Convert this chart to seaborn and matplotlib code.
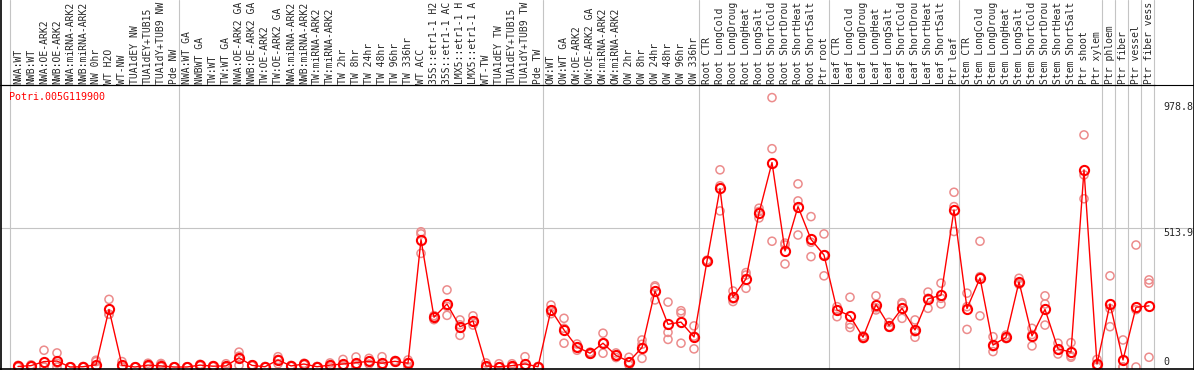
import numpy as np
import pandas as pd
import matplotlib
matplotlib.use("Agg")
import matplotlib.pyplot as plt
from matplotlib.lines import Line2D
import matplotlib.transforms as mtransforms
import seaborn as sns

# ---------------- data ----------------
gene_id = "Potri.005G119900"

# sample labels as visible in the chart header (long names are cut to 14 characters)
sample_labels = [
    "NWA:WT", "NWB:WT", "NWA:OE-ARK2", "NWB:OE-ARK2", "NWA:miRNA-ARK2", "NWB:miRNA-ARK2",
    "NW 0hr", "WT H2O", "WT-NW", "TUA1dEY NW", "TUA1dEY+TUB15", "TUA1dY+TUB9 NW", "Pde NW",
    "NWA:WT GA", "NWBWT GA", "TW:WT", "TW:WT GA", "NWA:OE-ARK2 GA", "NWB:OE-ARK2 GA",
    "TW:OE-ARK2", "TW:OE-ARK2 GA", "NWA:miRNA-ARK2", "NWB:miRNA-ARK2", "TW:miRNA-ARK2",
    "TW:miRNA-ARK2", "TW 2hr", "TW 8hr", "TW 24hr", "TW 48hr", "TW 96hr", "TW 336hr",
    "WT ACC", "35S::etr1-1 H2", "35S::etr1-1 AC", "LMX5::etr1-1 H", "LMX5::etr1-1 A",
    "WT-TW", "TUA1dEY TW", "TUA1dEY+TUB15", "TUA1dY+TUB9 TW", "Pde TW",
    "OW:WT", "OW:WT GA", "OW:OE-ARK2", "OW:OE-ARK2 GA", "OW:miRNA-ARK2", "OW:miRNA-ARK2",
    "OW 2hr", "OW 8hr", "OW 24hr", "OW 48hr", "OW 96hr", "OW 336hr",
    "Root CTR", "Root LongCold", "Root LongDroug", "Root LongHeat", "Root LongSalt",
    "Root ShortCold", "Root ShortDrou", "Root ShortHeat", "Root ShortSalt", "Ptr root",
    "Leaf CTR", "Leaf LongCold", "Leaf LongDroug", "Leaf LongHeat", "Leaf LongSalt",
    "Leaf ShortCold", "Leaf ShortDrou", "Leaf ShortHeat", "Leaf ShortSalt", "Ptr leaf",
    "Stem CTR", "Stem LongCold", "Stem LongDroug", "Stem LongHeat", "Stem LongSalt",
    "Stem ShortCold", "Stem ShortDrou", "Stem ShortHeat", "Stem ShortSalt", "Ptr shoot",
    "Ptr xylem", "Ptr phloem", "Ptr fiber", "Ptr vessel", "Ptr fiber vess",
]

group_sizes = [13, 28, 12, 10, 10, 11, 1, 1, 1, 1]

mean_values = [
    2, 5, 20, 22, 0, 1, 8, 213, 6, 0, 7, 4, 0,
    0, 7, 3, 4, 34, 6, 1, 26, 4, 11, 1, 7, 11, 16, 21, 14, 21, 14,
    471, 184, 233, 149, 170, 4, 1, 5, 11, 1,
    211, 137, 74, 51, 88, 43, 20, 72, 281, 158, 166, 111,
    392, 660, 258, 326, 569, 756, 429, 593, 472, 414,
    211, 189, 110, 231, 153, 217, 137, 252, 265, 581,
    216, 329, 81, 110, 315, 115, 213, 67, 55, 729, 11,
    233, 26, 221, 226,
]

rep_1 = [
    6, 8, 62, 52, 0, 2, 25, 250, 20, 0, 14, 13, 0,
    0, 10, 5, 12, 55, 8, 2, 38, 6, 14, 2, 15, 28, 37, 32, 38, 24, 26,
    500, 190, 285, 174, 189, 15, 12, 12, 38, 2,
    229, 180, 85, 55, 125, 52, 36, 100, 300, 240, 208, 152,
    395, 729, 281, 349, 587, 996, 458, 677, 556, 492,
    223, 258, 115, 263, 165, 238, 174, 277, 310, 646,
    273, 465, 112, 118, 328, 143, 263, 88, 90, 858, 28,
    337, 100, 451, 322,
]
rep_2 = [
    0, 5, 0, 14, 0, 0, 20, 195, 0, 0, 4, 10, 0,
    0, 7, 3, 0, 40, 6, 0, 28, 4, 10, 1, 6, 5, 10, 21, 5, 21, 16,
    492, 185, 224, 156, 166, 0, 0, 3, 0, 1,
    207, 143, 72, 51, 88, 43, 18, 84, 295, 128, 199, 114,
    392, 670, 252, 340, 575, 807, 451, 614, 461, 414,
    211, 158, 110, 219, 150, 233, 130, 254, 254, 593,
    223, 334, 75, 110, 310, 120, 233, 65, 41, 710, 5,
    216, 0, 212, 310,
]
rep_3 = [
    0, 2, 0, 0, 0, 0, 0, 195, 0, 0, 3, 0, 0,
    0, 4, 1, 0, 6, 4, 0, 12, 2, 8, 0, 0, 0, 0, 11, 0, 18, 0,
    420, 175, 191, 117, 155, 0, 0, 0, 0, 0,
    197, 88, 62, 47, 51, 35, 7, 32, 248, 102, 88, 67,
    389, 577, 242, 291, 551, 465, 381, 488, 408, 337,
    186, 146, 105, 211, 147, 180, 110, 217, 233, 501,
    139, 189, 57, 105, 306, 78, 155, 48, 36, 622, 0,
    149, 0, 0, 36,
]

y_tick_values = [0, 513.9, 978.8]
y_tick_labels = ["0", "513.9", "978.8"]

# ---------------- figure ----------------
W, H = 1194, 370
DPI = 100
sns.set_style("white")
plt.rcParams["font.family"] = ["DejaVu Sans Mono", "DejaVu Sans"]
FS = 7.0

fig = plt.figure(figsize=(W / DPI, H / DPI), dpi=DPI)
fig.patch.set_facecolor("white")

ax_left, ax_right, ax_top, ax_bottom = 1, 1155, 85, 369
ax = fig.add_axes([ax_left / W, (H - ax_bottom) / H,
                   (ax_right - ax_left) / W, (ax_bottom - ax_top) / H])

n = len(sample_labels)
idx = np.arange(n)
mean_df = pd.DataFrame({"idx": idx, "value": mean_values})
rep_df = pd.DataFrame({
    "idx": np.concatenate([idx, idx, idx]),
    "value": np.concatenate([rep_1, rep_2, rep_3]),
})

red = "#ff0000"
pink = "#ec8c8c"

sns.scatterplot(data=rep_df, x="idx", y="value", ax=ax, marker="o", s=34,
                color=pink, linewidth=1.1, zorder=3, legend=False)
pts = ax.collections[-1]
pts.set_facecolor("none")
pts.set_edgecolor(pink)

sns.lineplot(data=mean_df, x="idx", y="value", ax=ax, color=red, lw=1.0,
             marker="o", markersize=6.6, markerfacecolor="none",
             markeredgecolor=red, markeredgewidth=1.5, errorbar=None, zorder=4)

# scales: index i -> pixel 18 + 13 i ; value 0 -> y 367 px, 513.9 -> y 228 px
px_per_unit = (367 - 228) / 513.9
ax.set_xlim((ax_left - 18) / 13, (ax_right - 18) / 13)
ax.set_ylim((367 - ax_bottom) / px_per_unit, (367 - ax_top) / px_per_unit)

ax_w_px = ax_right - ax_left
ax_h_px = ax_bottom - ax_top

# group separators through header
bounds = np.concatenate([[0], np.cumsum(group_sizes)]) - 0.58
for b in bounds:
    ax.axvline(b, ymin=0, ymax=ax_bottom / ax_h_px, color="#c4c4c4", lw=0.8,
               clip_on=False, zorder=1)

# middle gridline extends to right edge
ax.axhline(y_tick_values[1], xmin=0, xmax=(W - ax_left) / ax_w_px, color="#c4c4c4",
           lw=0.8, clip_on=False, zorder=1)

# sample labels on top
ax.xaxis.tick_top()
ax.set_xticks(idx)
ax.set_xticklabels(sample_labels, rotation=90, fontsize=FS, family="DejaVu Sans Mono")
ax.tick_params(axis="x", length=0, pad=1)
ax.set_yticks([])
ax.set_xlabel("")
ax.set_ylabel("")

for sp in ["left", "right", "bottom"]:
    ax.spines[sp].set_visible(False)
ax.spines["top"].set_color("black")
ax.spines["top"].set_linewidth(0.8)

# y value labels at right
trans = mtransforms.blended_transform_factory(ax.transAxes, ax.transData)
xlab = 1 + 8 / ax_w_px
for v, t in zip(y_tick_values, y_tick_labels):
    ax.text(xlab, v, t, transform=trans, fontsize=7.2, family="DejaVu Sans Mono",
            ha="left", va="bottom" if v == 0 else "top", clip_on=False)

# gene title
fig.text(9 / W, 1 - 92 / H, gene_id, color=red, fontsize=7.2, family="DejaVu Sans Mono",
         ha="left", va="top")

# header separator and outer frame (left, right, bottom)
fig.add_artist(Line2D([0, 1], [(H - ax_top) / H] * 2, color="black", lw=0.8,
                      transform=fig.transFigure))
fig.add_artist(Line2D([0.5 / W, 0.5 / W], [0, 1], color="black", lw=1.2,
                      transform=fig.transFigure))
fig.add_artist(Line2D([1 - 0.5 / W, 1 - 0.5 / W], [0, 1], color="black", lw=1.2,
                      transform=fig.transFigure))
fig.add_artist(Line2D([0, 1], [0.8 / H, 0.8 / H], color="black", lw=1.2,
                      transform=fig.transFigure))

fig.savefig("out.png", dpi=DPI)
